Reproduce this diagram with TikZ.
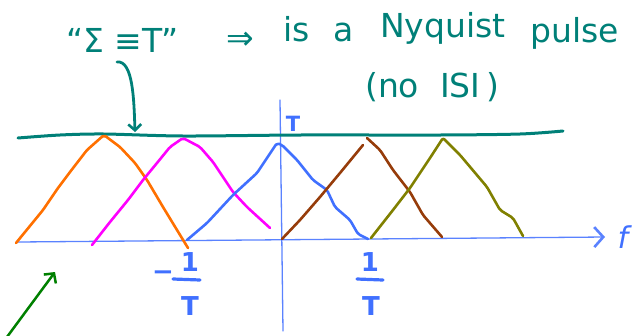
\documentclass[tikz,border=0pt]{standalone}
\usepackage{fontspec}
\setmainfont{DejaVu Sans}
\usetikzlibrary{arrows.meta}
\definecolor{tealc}{RGB}{0,128,120}
\definecolor{orng}{RGB}{255,112,0}
\definecolor{magc}{RGB}{255,0,255}
\definecolor{bluc}{RGB}{64,112,255}
\definecolor{axc}{RGB}{90,130,255}
\definecolor{brwn}{RGB}{150,60,10}
\definecolor{olv}{RGB}{128,128,0}
\definecolor{grn}{RGB}{0,128,0}
\begin{document}
\begin{tikzpicture}[x=1pt,y=-1pt, line cap=round, line join=round,
  pulse/.style={line width=2.6pt, rounded corners=2pt},
  txt/.style={text=tealc, font=\fontsize{33}{36}\selectfont, inner sep=0pt, anchor=base west},
  lbl/.style={text=bluc, font=\fontsize{26}{28}\selectfont\bfseries, inner sep=0pt}]
\useasboundingbox (0,0) rectangle (642,335);

% axes
\coordinate (xs) at (18,242);
\coordinate (xe) at (605,237);
\coordinate (ys) at (280,100);
\coordinate (ye) at (283,331);
\draw[axc, line width=1.3pt, -{Straight Barb[length=9pt,width=20pt,line width=2.6pt]}] (xs) -- (xe);
\draw[axc, line width=1.3pt] (ys) -- (ye);
\node[text=bluc, font=\fontsize{30}{32}\selectfont\itshape, inner sep=0pt] (f) at (623,237) {f};
\node[lbl, font=\fontsize{21}{23}\selectfont\bfseries] (Tl) at (293,124) {T};

% sum line
\draw[tealc, line width=3pt] plot[smooth] coordinates {(18,138) (60,135) (104,134) (183,136) (300,135) (440,135) (520,134) (563,131)};

% pulses
\draw[orng, pulse] (16,243) -- (43,210) -- (58,188) -- (70,172) -- (87,150) -- (104,135) -- (120,147) -- (135,163) -- (147,180) -- (163,207) -- (177,230) -- (188,248);
\draw[magc, pulse] (92,245) -- (110,222) -- (128,200) -- (143,180) -- (157,163) -- (170,147) -- (183,138) -- (200,147) -- (213,162) -- (223,177) -- (233,192) -- (247,207) -- (270,228);
\draw[bluc, pulse] (187,240) -- (207,223) -- (233,195) -- (257,173) -- (277,143) -- (282,145) -- (297,160) -- (313,180) -- (327,190) -- (335,207) -- (350,220) -- (358,234) -- (368,239);
\draw[brwn, pulse] (282,239) -- (300,220) -- (320,197) -- (340,173) -- (363,145);
\draw[brwn, pulse] (367,138) -- (380,150) -- (393,170) -- (410,192) -- (423,215) -- (442,237);
\draw[olv, pulse] (371,238) -- (393,210) -- (410,188) -- (430,158) -- (443,138) -- (460,155) -- (487,187) -- (500,210) -- (513,218) -- (523,236);

% axis labels
\node[lbl] (m) at (163,276) {−};
\node[lbl] (n1) at (190,262) {1};
\node[lbl] (d1) at (190,306) {T};
\draw[bluc, line width=3.2pt] (173,279) -- (200,280);
\node[lbl] (n2) at (370,262) {1};
\node[lbl] (d2) at (371,306) {T};
\draw[bluc, line width=3.2pt] (357,279) -- (383,280);

% top text
\node[txt] (sig) at (66,52) {“Σ ≡T”};
\node[txt] (imp) at (226,49) {⇒};
\node[txt] (is) at (283,41) {is};
\node[txt] (a) at (333,41) {a};
\node[txt] (nyq) at (380,37) {Nyquist};
\node[txt] (pul) at (530,42) {pulse};
\node[txt, anchor=center] (isi) at (432,87) {(no\ \ ISI\,)};

% curved pointer
\coordinate (c0) at (117,62);
\coordinate (c1) at (135,132);
\draw[tealc, line width=2.8pt, -{Straight Barb[length=6pt,width=13pt,line width=2.6pt]}] (c0) .. controls (133,60) and (134,100) .. (c1);

% green arrow
\coordinate (g0) at (7,337);
\coordinate (g1) at (55,272);
\draw[grn, line width=2.5pt, -{Straight Barb[length=7pt,width=15pt,line width=2.5pt]}] (g0) -- (g1);
\end{tikzpicture}
\end{document}
